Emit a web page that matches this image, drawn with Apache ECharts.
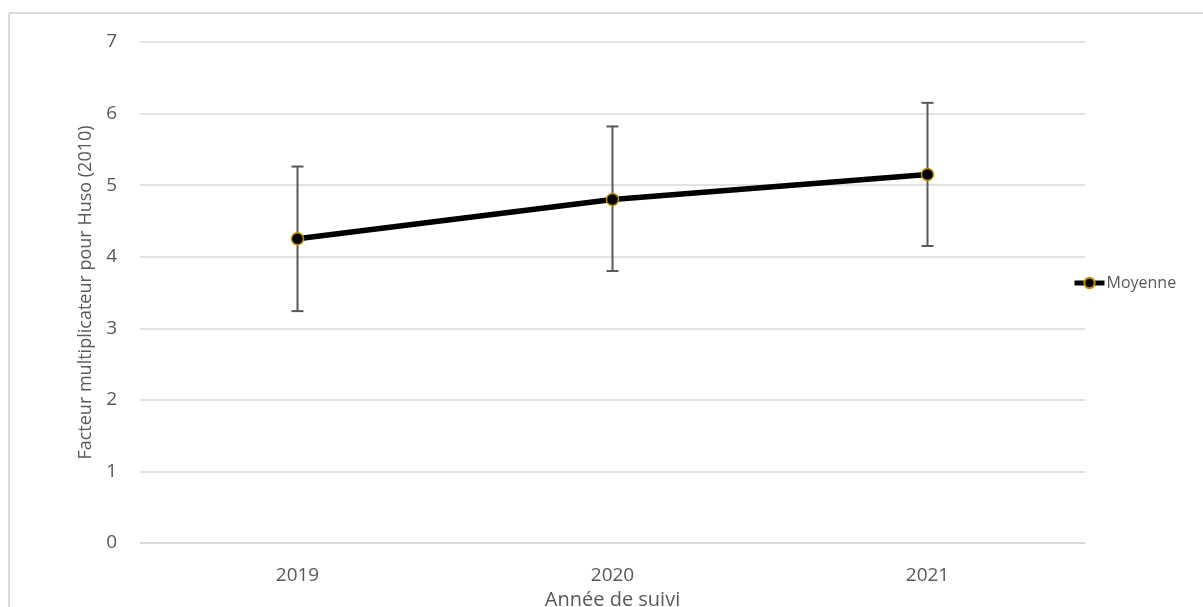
<!DOCTYPE html>
<html>
<head>
<meta charset="utf-8">
<script src="https://cdn.jsdelivr.net/npm/echarts@6/dist/echarts.min.js"></script>
<style>html,body{margin:0;padding:0;background:#fff}#c{width:1203px;height:607px}</style>
</head>
<body>
<div id="c"></div>
<script>
const categories = ['2019', '2020', '2021'];
const moyenne = [4.25, 4.80, 5.15];
const errLow = [3.24, 3.80, 4.15];
const errHigh = [5.26, 5.82, 6.15];
const yTicks = [0, 1, 2, 3, 4, 5, 6, 7];

const FONT = '"Open Sans", "Liberation Sans", sans-serif';
const TXT = '#595959';

const chart = echarts.init(document.getElementById('c'), null, {renderer: 'canvas'});
chart.setOption({
  backgroundColor: '#fff',
  animation: false,
  textStyle: {fontFamily: FONT},
  graphic: [
    {type: 'line', shape: {x1: 9, y1: 13, x2: 1203, y2: 13}, style: {stroke: '#d9d9d9', lineWidth: 2}},
    {type: 'line', shape: {x1: 9, y1: 13, x2: 9, y2: 607}, style: {stroke: '#d9d9d9', lineWidth: 2}}
  ],
  grid: {left: 140, right: 118, top: 42, bottom: 64, containLabel: false, outerBoundsMode: 'none'},
  legend: {
    data: ['Moyenne'],
    left: 1067, top: 270,
    itemWidth: 30, itemHeight: 13, itemGap: 4,
    lineStyle: {width: 5},
    textStyle: {color: TXT, fontSize: 16, fontFamily: FONT, padding: [0,0,0,-3]}
  },
  xAxis: {
    type: 'category', data: categories, boundaryGap: true,
    name: 'Année de suivi', nameLocation: 'middle', nameGap: 45,
    nameTextStyle: {color: TXT, fontSize: 20, fontFamily: FONT},
    axisLine: {show: true, lineStyle: {color: '#d9d9d9', width: 1.5}},
    axisTick: {show: false},
    axisLabel: {color: TXT, fontSize: 19, margin: 23, fontFamily: FONT}
  },
  yAxis: {
    type: 'value', min: yTicks[0], max: yTicks[yTicks.length-1], interval: 1,
    name: 'Facteur multiplicateur pour Huso (2010)', nameLocation: 'middle', nameGap: 45,
    nameTextStyle: {color: TXT, fontSize: 18, fontFamily: FONT},
    axisLine: {show: false}, axisTick: {show: false},
    axisLabel: {color: TXT, fontSize: 19, margin: 23, fontFamily: FONT},
    splitLine: {lineStyle: {color: '#d9d9d9', width: 1.5}}
  },
  series: [
    {
      name: 'Moyenne', type: 'line', data: moyenne,
      symbol: 'circle', symbolSize: 12,
      lineStyle: {color: '#000', width: 5.5},
      itemStyle: {color: '#000', borderColor: '#BF9000', borderWidth: 1.5},
      z: 3
    },
    {
      name: 'Erreur', type: 'custom',
      data: categories.map((c, i) => [i, errLow[i], errHigh[i]]),
      renderItem: function (params, api) {
        const lo = api.coord([api.value(0), api.value(1)]);
        const hi = api.coord([api.value(0), api.value(2)]);
        const w = 6;
        const st = {stroke: '#595959', lineWidth: 2};
        return {type: 'group', children: [
          {type: 'line', shape: {x1: lo[0], y1: lo[1], x2: hi[0], y2: hi[1]}, style: st},
          {type: 'line', shape: {x1: hi[0]-w, y1: hi[1], x2: hi[0]+w, y2: hi[1]}, style: st},
          {type: 'line', shape: {x1: lo[0]-w, y1: lo[1], x2: lo[0]+w, y2: lo[1]}, style: st}
        ]};
      },
      z: 2
    }
  ]
});
</script>
</body>
</html>
